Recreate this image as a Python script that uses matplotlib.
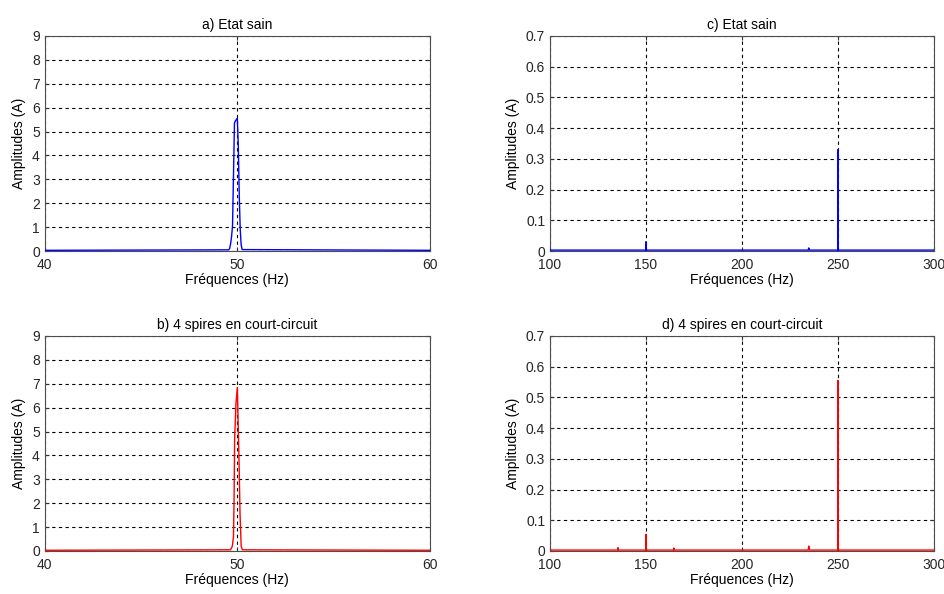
import matplotlib.pyplot as plt

plt.rcParams['font.family'] = ['Liberation Sans', 'DejaVu Sans']

# --- a) Etat sain, 40-60 Hz (blue)
freq_a = [40, 49.55, 49.60, 49.65, 49.70, 49.75, 49.80, 49.85, 49.90, 49.95, 50.00,
          50.05, 50.10, 50.15, 50.20, 50.25, 60]
amp_a = [0.03, 0.05, 0.10, 0.30, 0.60, 1.05, 3.15, 5.35, 5.45, 5.50, 5.55,
         4.40, 2.30, 0.90, 0.25, 0.06, 0.03]

# --- b) 4 spires en court-circuit, 40-60 Hz (red)
freq_b = [40, 49.65, 49.74, 49.80, 49.83, 49.86, 49.93, 50.00, 50.03, 50.09,
          50.14, 50.20, 50.26, 60]
amp_b = [0.03, 0.05, 0.20, 0.60, 2.15, 4.70, 6.20, 6.85, 5.80, 3.70,
         1.55, 0.20, 0.05, 0.03]

# --- c) Etat sain, 100-300 Hz (blue)
freq_c = [100, 149.9, 150.0, 150.1, 234.5, 234.8, 235.1, 249.9, 249.95, 250.0, 250.05, 300]
amp_c = [0.003, 0.003, 0.030, 0.003, 0.003, 0.010, 0.003, 0.003, 0.205, 0.330, 0.003, 0.003]

# --- d) 4 spires en court-circuit, 100-300 Hz (red)
freq_d = [100, 135.2, 135.4, 135.6, 149.9, 150.0, 150.1, 164.3, 164.5, 164.7,
          234.5, 234.8, 235.1, 249.85, 249.95, 250.0, 250.05, 300]
amp_d = [0.003, 0.003, 0.011, 0.003, 0.003, 0.054, 0.003, 0.003, 0.010, 0.003,
         0.003, 0.016, 0.003, 0.003, 0.356, 0.555, 0.003, 0.003]

low_ticks = [0, 1, 2, 3, 4, 5, 6, 7, 8, 9]
high_ticks = [0, 0.1, 0.2, 0.3, 0.4, 0.5, 0.6, 0.7]

panels = [
    ('a) Etat sain', freq_a, amp_a, 'blue', (40, 60), [40, 50, 60], (0, 9), low_ticks),
    ('c) Etat sain', freq_c, amp_c, 'blue', (100, 300), [100, 150, 200, 250, 300], (0, 0.7), high_ticks),
    ('b) 4 spires en court-circuit', freq_b, amp_b, 'red', (40, 60), [40, 50, 60], (0, 9), low_ticks),
    ('d) 4 spires en court-circuit', freq_d, amp_d, 'red', (100, 300), [100, 150, 200, 250, 300], (0, 0.7), high_ticks),
]

# axes boxes in figure fractions (left, bottom, width, height)
boxes = [
    (0.0473, 0.5774, 0.4077, 0.362),
    (0.582, 0.5774, 0.4063, 0.362),
    (0.0473, 0.0724, 0.4077, 0.362),
    (0.582, 0.0724, 0.4063, 0.362),
]

fig = plt.figure(figsize=(9.45, 5.94), dpi=100)
fs = 10

for (title, f, a, col, xl, xt, yl, yt), box in zip(panels, boxes):
    ax = fig.add_axes(box)
    ax.plot(f, a, color=col, lw=1.0, zorder=3)
    ax.set_xlim(*xl)
    ax.set_ylim(*yl)
    ax.set_xticks(xt)
    ax.set_yticks(yt)
    ax.set_yticklabels([('%g' % v) for v in yt])
    ax.grid(True, color='black', linestyle=(0, (3, 3)), linewidth=0.8)
    ax.tick_params(direction='in', length=3, labelsize=fs, top=True, right=True,
                   colors='0.2', labelcolor='0.15')
    ax.tick_params(axis='x', pad=5)
    for s in ax.spines.values():
        s.set_color('0.3')
    ax.set_title(title, fontsize=fs, pad=5)
    ax.set_xlabel('Fréquences (Hz)', fontsize=fs, labelpad=1)
    ax.set_ylabel('Amplitudes (A)', fontsize=fs, labelpad=4)

fig.savefig('out.png', dpi=100)
